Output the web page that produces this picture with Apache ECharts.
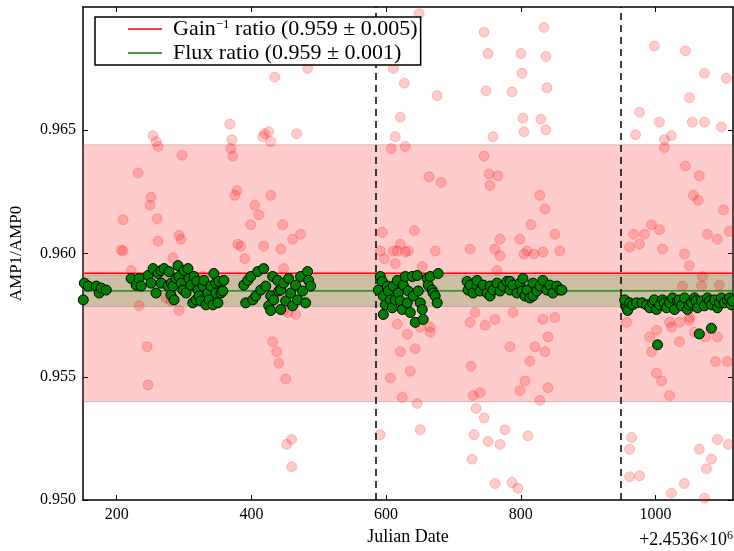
<!DOCTYPE html>
<html>
<head>
<meta charset="utf-8">
<script src="https://cdn.jsdelivr.net/npm/echarts@6/dist/echarts.min.js"></script>
<style>html,body{margin:0;padding:0;background:#fff}#c{width:734px;height:551px}</style>
</head>
<body>
<div id="c"></div>
<script>
// ---- axis ranges and ticks ----
const xRange = [150, 1115];
const yRange = [0.950, 0.970];
const xTicks = [200, 400, 600, 800, 1000];
const yTicks = [0.950, 0.955, 0.960, 0.965];
const xOffsetLabel = '+2.4536×10';
const xOffsetExp = '6';

// ---- summary values ----
const gainMean = 0.95920, gainErr = 0.00521;
const fluxMean = 0.95849, fluxErr = 0.00064;
const gainLabel = 'Gain ratio (0.959 ± 0.005)';
const fluxLabel = 'Flux ratio (0.959 ± 0.001)';
const seasonBreaks = [585, 949];

// ---- flux ratio points (green) ----
const flux1 = [[150.4,0.95812],[152,0.95880],[157.8,0.95868],[169.7,0.95868],[174.1,0.95840],[177.1,0.95860],[184.5,0.95852]];
const flux2 = [[221.5,0.95899],[229,0.95872],[233.3,0.95899],[236.3,0.95868],[246.6,0.95911],[251.1,0.95880],[254.0,0.95939],[258.5,0.95840],[261.4,0.95919],[265.9,0.95931],[266,0.95880],[270.3,0.95939],[276.2,0.95868],[277.7,0.95927],[280.6,0.95832],[281,0.95880],[283.6,0.95868],[285.1,0.95812],[288.1,0.95899],[291.0,0.95951],[292.5,0.95907],[295.5,0.95880],[298.4,0.95852],[299.9,0.95931],[303,0.95840],[305.8,0.95939],[307.3,0.95899],[310.3,0.95872],[313,0.95800],[314.7,0.95907],[317.7,0.95812],[319,0.95887],[320.6,0.95852],[322.1,0.95828],[325.1,0.95808],[328.0,0.95868],[329.5,0.95891],[332.5,0.95792],[335.4,0.95840],[336.9,0.95812],[339.9,0.95868],[342.9,0.95792],[344.3,0.95919],[347.3,0.95840],[347,0.95880],[350.3,0.95800],[351.7,0.95887],[355,0.95840],[357.6,0.95848],[359.1,0.95891]];
const flux3 = [[388.7,0.95872],[391.6,0.95800],[394.6,0.95891],[399.1,0.95907],[402.0,0.95812],[406.5,0.95828],[409.4,0.95927],[413.9,0.95852],[418.3,0.95939],[421.3,0.95868],[425.7,0.95788],[428.7,0.95769],[428.7,0.95828],[431.6,0.95907],[433.1,0.95812],[439.0,0.95891],[440.5,0.95848],[443.5,0.95773],[443.5,0.95852],[447.9,0.95880],[450.9,0.95808],[455.3,0.95899],[458.3,0.95840],[461.2,0.95788],[465.7,0.95872],[468.6,0.95812],[473.1,0.95907],[476.0,0.95848],[480.5,0.95800],[483.4,0.95927],[484.9,0.95891],[487.9,0.95868]];
const flux4 = [[588.5,0.95852],[591.4,0.95907],[594.4,0.95887],[595.9,0.95828],[595.9,0.95753],[598.9,0.95792],[601.8,0.95868],[603.3,0.95848],[606.3,0.95812],[609.2,0.95780],[610.7,0.95868],[613.7,0.95812],[616.6,0.95891],[618.1,0.95840],[621.1,0.95808],[624.0,0.95773],[625.5,0.95872],[628.5,0.95907],[631.4,0.95800],[632.9,0.95848],[635.9,0.95761],[638.8,0.95907],[640.3,0.95828],[643.3,0.95721],[646.2,0.95911],[647.7,0.95848],[650.7,0.95800],[653.6,0.95773],[655.1,0.95733],[661.0,0.95899],[662.5,0.95872],[665.5,0.95907],[668.4,0.95852],[669.9,0.95840],[672.9,0.95828],[675.8,0.95800],[677.3,0.95919]];
const flux5 = [[720.2,0.95887],[721.7,0.95852],[724.7,0.95872],[729.1,0.95840],[735.0,0.95868],[735.0,0.95891],[739.5,0.95848],[743.9,0.95872],[749.8,0.95840],[754.3,0.95868],[754.3,0.95828],[758.7,0.95852],[764.6,0.95880],[769.1,0.95848],[773.5,0.95868],[779.4,0.95887],[783.9,0.95852],[783.9,0.95887],[788.3,0.95872],[794.3,0.95840],[798.7,0.95880],[801.7,0.95848],[803.2,0.95899],[806.1,0.95828],[809.1,0.95852],[813.5,0.95820],[818.0,0.95880],[818.0,0.95828],[823.9,0.95848],[828.3,0.95868],[832.8,0.95891],[838.7,0.95852],[843.1,0.95872],[847.6,0.95840],[853.5,0.95868],[857.9,0.95852],[860.9,0.95852]];
const flux6 = [[954.1,0.95812],[957.0,0.95780],[958.6,0.95769],[961.5,0.95800],[966.0,0.95792],[971.9,0.95800],[980,0.95800],[986.7,0.95792],[991.2,0.95780],[995.6,0.95800],[998,0.95812],[1001.5,0.95773],[1006.0,0.95792],[1010.4,0.95812],[1013,0.95800],[1016.3,0.95780],[1020.8,0.95800],[1025.2,0.95820],[1028.2,0.95773],[1032.6,0.95808],[1035,0.95812],[1038.6,0.95788],[1043.0,0.95820],[1047.5,0.95773],[1050,0.95792],[1053.4,0.95800],[1057.8,0.95820],[1060,0.95808],[1062.3,0.95780],[1068.2,0.95808],[1072.6,0.95788],[1077.1,0.95820],[1080,0.95808],[1083.0,0.95792],[1087.5,0.95812],[1091.9,0.95780],[1095,0.95800],[1097.8,0.95820],[1102.3,0.95800],[1106.7,0.95812],[1110,0.95820],[1112.6,0.95792],[1114.1,0.95808],[1003.0,0.95630],[1065.0,0.95674],[1083.0,0.95697]];

// ---- inverse gain ratio points (faint red) ----
const gain1 = [[209.6,0.96137],[231.8,0.96327],[249.6,0.96196],[251.1,0.96228],[254.0,0.96478],[258.5,0.96454],[261.4,0.96434],[260.0,0.96141],[261.4,0.96050],[292.5,0.96074],[295.5,0.96058],[297.0,0.96399],[245.2,0.95622],[246.6,0.95467],[206.7,0.96014],[283.6,0.95983],[273.3,0.95887],[280.6,0.95808],[209.6,0.96010],[221.5,0.95931],[233.3,0.95788],[273.3,0.95820],[292.5,0.95769],[328.0,0.95907]];
const gain2 = [[368.0,0.96525],[371.0,0.96462],[369.5,0.96426],[372.4,0.96395],[375.4,0.96236],[378.4,0.96256],[379.8,0.96038],[384.3,0.96030],[390.2,0.95979],[399.1,0.96117],[405.0,0.96196],[410.9,0.96157],[416.8,0.96474],[419.8,0.96486],[425.7,0.96494],[428.7,0.96454],[434.6,0.96716],[431.6,0.95642],[437.5,0.95602],[440.5,0.95555],[450.9,0.95491],[452.3,0.95226],[459.7,0.95246],[459.7,0.95135],[467.1,0.96486],[473.1,0.96078],[483.4,0.96751],[453.8,0.95761],[446.4,0.96117],[461.2,0.96058],[428.7,0.96236],[418.3,0.96030],[443.5,0.96018],[447.9,0.95939],[465.7,0.95753],[447.9,0.95769]];
const gain3 = [[610.7,0.96751],[627.0,0.96691],[649.2,0.96973],[607.7,0.96426],[621.1,0.96553],[613.7,0.96474],[628.5,0.96434],[594.4,0.96086],[621.1,0.96038],[641.8,0.96093],[597.4,0.95979],[628.5,0.96006],[591.4,0.95265],[606.3,0.95495],[624.0,0.95416],[621.1,0.95602],[643.3,0.95614],[650.7,0.95701],[665.5,0.95701],[635.9,0.95523],[664.0,0.96311],[675.8,0.96640],[681.7,0.96288],[646.2,0.95392],[650.7,0.95285],[613.7,0.95959],[610.7,0.96010],[616.6,0.96010],[632.9,0.96010],[672.9,0.96010],[653.6,0.95947],[616.6,0.95713],[631.4,0.95673],[665.5,0.95681],[591.4,0.96010]];
const gain4 = [[726.1,0.95543],[729.1,0.95424],[733.5,0.95372],[739.5,0.95436],[745.4,0.95333],[730.6,0.95265],[727.6,0.95166],[751.3,0.95238],[769.1,0.95226],[761.7,0.95067],[745.4,0.96898],[751.3,0.96811],[748.4,0.96660],[745.4,0.96395],[752.8,0.96323],[754.3,0.96276],[758.7,0.96474],[766.1,0.96315],[769.1,0.96058],[761.7,0.96018],[786.9,0.96656],[800.2,0.96811],[801.7,0.96731],[803.2,0.96549],[804.6,0.96494],[798.7,0.96058],[804.6,0.95998],[815.0,0.96117],[819.4,0.95998],[783.9,0.95622],[798.7,0.95444],[806.1,0.95483],[813.5,0.95563],[821.0,0.95622],[835.8,0.95602],[840.2,0.95662],[786.9,0.95071],[795.7,0.95048],[810.6,0.95261],[834.3,0.96917],[837.2,0.96799],[838.7,0.96672],[837.2,0.96502],[829.8,0.96545],[828.3,0.96236],[835.8,0.96181],[850.6,0.96078],[828.3,0.95404],[840.2,0.95456],[776.5,0.95285],[724.7,0.96018],[769.1,0.95991],[764.6,0.95931],[732.1,0.95761],[724.7,0.95721],[761.7,0.95733],[746.9,0.95709],[788.3,0.95761],[832.8,0.96006],[857.9,0.96010],[850.6,0.95741],[832.8,0.95733],[809.1,0.96010]];
const gain5 = [[961.5,0.95206],[964.5,0.95254],[961.5,0.95095],[976.2,0.95099],[970.3,0.96482],[976.2,0.96573],[967.4,0.96078],[976.2,0.96038],[983.6,0.96078],[994.0,0.96117],[1005.8,0.96097],[998.4,0.96842],[1005.8,0.96533],[1013.2,0.96430],[1013.2,0.96462],[1023.5,0.96478],[1044.3,0.96822],[1044.3,0.96355],[1050.2,0.96632],[1054.6,0.96533],[1072.6,0.96731],[1056.1,0.96236],[1063.5,0.96216],[1065.0,0.96315],[1072.6,0.96533],[1077.1,0.96078],[1091.9,0.96058],[1097.8,0.96513],[1100.8,0.96177],[1109.6,0.96090],[1105.2,0.96711],[991.2,0.95662],[994.0,0.95602],[1008.9,0.95483],[1020.7,0.95424],[1035.5,0.95642],[1050.2,0.95741],[1057.6,0.95681],[1074.1,0.95662],[1091.9,0.95662],[1001.5,0.95515],[1020.7,0.95721],[1065.0,0.95206],[1075.6,0.95127],[1083.0,0.95166],[1091.9,0.95246],[1108.1,0.95226],[1023.5,0.95028],[1042.8,0.95067],[1072.6,0.95008],[1089.0,0.95562],[1106.7,0.95562],[957.0,0.95721],[961.5,0.96026],[1010.4,0.96018],[1043.0,0.95998],[1050.2,0.95951],[1069.7,0.95907],[1094.9,0.95872],[1068.2,0.95868],[1040.0,0.95868],[1001.5,0.95689],[1023.7,0.95701],[1035.5,0.95721],[1050.2,0.95729]];

const FONT = 'Liberation Serif';
const fluxPts = [].concat(flux1, flux2, flux3, flux4, flux5, flux6);
const gainPts = [].concat(gain1, gain2, gain3, gain4, gain5);
const hLine = v => [[xRange[0], v], [xRange[1], v]];

const chart = echarts.init(document.getElementById('c'), null, {renderer: 'canvas'});

const axisCommon = {
  type: 'value', scale: true,
  axisLine: {show: true, onZero: false, lineStyle: {color: '#000', width: 1.5}},
  splitLine: {show: false}
};

chart.setOption({
  animation: false,
  backgroundColor: '#fff',
  grid: {left: 82, right: 1, top: 7, bottom: 39, containLabel: false},
  xAxis: [
    Object.assign({}, axisCommon, {
      position: 'bottom', min: xRange[0], max: xRange[1],
      axisTick: {inside: true, length: 5, customValues: xTicks, lineStyle: {color: '#000', width: 1}},
      axisLabel: {customValues: xTicks, color: '#000', fontFamily: FONT, fontSize: 16, margin: 7,
                  formatter: v => String(v)},
      name: 'Julian Date', nameLocation: 'middle', nameGap: 21,
      nameTextStyle: {color: '#000', fontFamily: FONT, fontSize: 18}
    }),
    Object.assign({}, axisCommon, {
      position: 'top', min: xRange[0], max: xRange[1],
      axisTick: {inside: true, length: 5, customValues: xTicks, lineStyle: {color: '#000', width: 1}},
      axisLabel: {show: false}
    })
  ],
  yAxis: [
    Object.assign({}, axisCommon, {
      position: 'left', min: yRange[0], max: yRange[1],
      axisTick: {inside: true, length: 5, customValues: yTicks, lineStyle: {color: '#000', width: 1}},
      axisLabel: {customValues: yTicks, color: '#000', fontFamily: FONT, fontSize: 16, margin: 7,
                  formatter: v => Number(v).toFixed(3)},
      name: 'AMP1/AMP0', nameLocation: 'middle', nameGap: 58, nameRotate: 90,
      nameTextStyle: {color: '#000', fontFamily: FONT, fontSize: 17}
    }),
    Object.assign({}, axisCommon, {
      position: 'right', min: yRange[0], max: yRange[1],
      axisTick: {inside: true, length: 5, customValues: yTicks, lineStyle: {color: '#000', width: 1}},
      axisLabel: {show: false}
    })
  ],
  legend: {
    data: [{name: gainLabel, icon: 'rect'}, {name: fluxLabel, icon: 'rect'}],
    orient: 'vertical', left: 95, top: 17,
    padding: [1, 3, 1, 33], itemGap: 2, itemWidth: 34, itemHeight: 1.6,
    backgroundColor: '#fff', borderColor: '#000', borderWidth: 1.5, borderRadius: 0,
    selectedMode: false, z: 20,
    textStyle: {
      color: '#000', fontFamily: FONT, fontSize: 22, lineHeight: 22, padding: [0, 0, 0, 6],
      rich: {
        n: {color: '#000', fontFamily: FONT, fontSize: 22, lineHeight: 22},
        s: {color: '#000', fontFamily: FONT, fontSize: 13, lineHeight: 13, verticalAlign: 'top'}
      }
    },
    formatter: name => {
      if (name === gainLabel) {
        const rest = name.slice(4);
        return '{n|Gain}{s|−1}{n|' + rest + '}';
      }
      return '{n|' + name + '}';
    }
  },
  graphic: [{
    type: 'text', right: 1, top: 530, z: 10,
    style: {
      text: '{n|' + xOffsetLabel + '}{s|' + xOffsetExp + '}',
      rich: {
        n: {fontFamily: FONT, fontSize: 18, fill: '#000', lineHeight: 20},
        s: {fontFamily: FONT, fontSize: 12, fill: '#000', lineHeight: 12, verticalAlign: 'top'}
      }
    }
  }],
  series: [
    {
      name: 'gainBand', type: 'line', data: hLine(gainMean), symbol: 'none', silent: true, z: 1,
      lineStyle: {opacity: 0},
      markArea: {silent: true, itemStyle: {color: 'rgba(255,0,0,0.2)', borderColor: 'rgba(140,110,110,0.35)', borderWidth: 1},
                 data: [[{yAxis: gainMean - gainErr}, {yAxis: gainMean + gainErr}]]}
    },
    {
      name: 'fluxBand', type: 'line', data: hLine(fluxMean), symbol: 'none', silent: true, z: 1,
      lineStyle: {opacity: 0},
      markArea: {silent: true, itemStyle: {color: 'rgba(0,128,0,0.2)', borderColor: 'rgba(80,90,80,0.25)', borderWidth: 1},
                 data: [[{yAxis: fluxMean - fluxErr}, {yAxis: fluxMean + fluxErr}]]}
    },
    {
      name: 'gainPts', type: 'scatter', data: gainPts, symbolSize: 10, z: 2, silent: true,
      itemStyle: {color: '#ff0000', borderColor: '#ff0000', borderWidth: 1, opacity: 0.2}
    },
    {
      name: gainLabel, type: 'line', data: hLine(gainMean), symbol: 'none', z: 3, silent: true,
      color: '#ff0000', lineStyle: {color: '#ff0000', width: 1.5}
    },
    {
      name: fluxLabel, type: 'line', data: hLine(fluxMean), symbol: 'none', z: 3, silent: true,
      color: '#008000', lineStyle: {color: '#008000', width: 1.2}
    },
    {
      name: 'breaks', type: 'line', data: [], z: 4, silent: true,
      markLine: {silent: true, symbol: ['none', 'none'], label: {show: false},
                 lineStyle: {color: '#000', type: [7, 5], width: 1.5},
                 data: seasonBreaks.map(v => ({xAxis: v}))}
    },
    {
      name: 'fluxPts', type: 'scatter', data: fluxPts, symbolSize: 10, z: 5, silent: true,
      itemStyle: {color: '#008000', borderColor: '#000', borderWidth: 1, opacity: 1}
    }
  ]
});
</script>
</body>
</html>
